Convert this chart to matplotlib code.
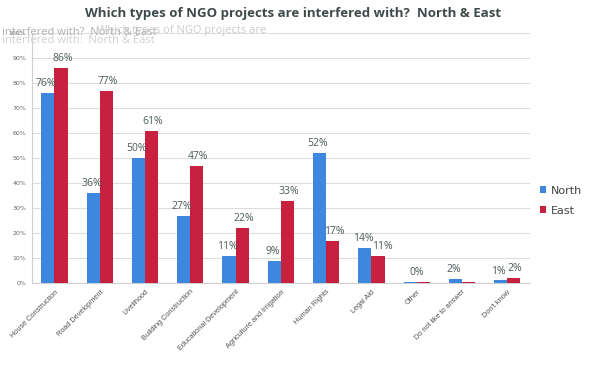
import numpy as np
import matplotlib
matplotlib.use("Agg")
import matplotlib.pyplot as plt

categories = ["House Construction", "Road Development", "Livelihood",
              "Building Construction", "Educational Development",
              "Agriculture and Irrigation", "Human Rights", "Legal Aid",
              "Other", "Do not like to answer", "Don't know"]
north = [76, 36, 50, 27, 11, 9, 52, 14, 0.3, 1.5, 1]
east = [86, 77, 61, 47, 22, 33, 17, 11, 0.3, 0.4, 2]
north_labels = ["76%", "36%", "50%", "27%", "11%", "9%", "52%", "14%", None, "2%", "1%"]
east_labels = ["86%", "77%", "61%", "47%", "22%", "33%", "17%", "11%", "0%", None, "2%"]

blue = "#3d87de"
red = "#c7213f"
txt = "#4d5b5b"

fig = plt.figure(figsize=(5.9, 3.68), dpi=100)
ax = fig.add_axes([0.054, 0.231, 0.844, 0.679])

x = np.arange(len(categories))
w = 0.29
ax.bar(x - w / 2, north, w, color=blue, label="North", zorder=3)
ax.bar(x + w / 2, east, w, color=red, label="East", zorder=3)

for i in range(len(categories)):
    if north_labels[i]:
        ax.text(x[i] - w / 2 - 0.04, north[i] + 1.5, north_labels[i], ha="center", va="bottom",
                fontsize=7.5, color=txt, family="Open Sans", zorder=4)
    if east_labels[i]:
        if categories[i] == "Other":
            xx, ha = x[i], "center"
        elif categories[i] == "Legal Aid":
            xx, ha = x[i] + 0.02, "left"
        else:
            xx, ha = x[i] + w / 2 + 0.03, "center"
        ax.text(xx, east[i] + 1.5, east_labels[i], ha=ha, va="bottom",
                fontsize=7.5, color=txt, family="Open Sans", zorder=4)

ax.set_xlim(-0.5, len(categories) - 0.5)
ax.set_ylim(0, 100)
ax.set_yticks(range(0, 101, 10))
ax.set_yticklabels([f"{v}%" for v in range(0, 101, 10)], fontsize=4.5, color="#666666")
ax.yaxis.grid(True, color="#dddddd", lw=0.8, zorder=0)
ax.set_xticks(x)
ax.set_xticklabels(categories, rotation=45, ha="right", rotation_mode="anchor",
                   fontsize=5.3, color="#555555", family="Liberation Sans")
ax.tick_params(length=0, pad=4)
for s in ["top", "right"]:
    ax.spines[s].set_visible(False)
ax.spines["left"].set_color("#d0d0d0")
ax.spines["bottom"].set_color("#d0d0d0")

# faint ghost text left over in the source image
fig.text(0.003, 0.913, "interfered with?  North & East", ha="left", va="center",
         fontsize=8, color="#b0b0b0", family="Open Sans")
fig.text(0.165, 0.916, "Which types of NGO projects are", ha="left", va="center",
         fontsize=8, color="#cccccc", family="Open Sans")
fig.text(0.003, 0.89, "interfered with:  North & East", ha="left", va="center",
         fontsize=8, color="#d0d0d0", family="Open Sans")

fig.text(0.497, 0.962, "Which types of NGO projects are interfered with?  North & East",
         ha="center", va="center", fontsize=9.5, fontweight="bold", color="#3e4a4a",
         family="Open Sans")

ax.legend(loc="center left", bbox_to_anchor=(1.0, 0.33), frameon=False,
          fontsize=8, handlelength=0.6, handleheight=0.6, handletextpad=0.4,
          labelspacing=0.9, labelcolor="#444444")

fig.savefig("out.png", dpi=100)
